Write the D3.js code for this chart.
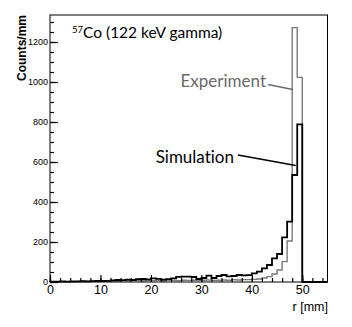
<!DOCTYPE html>
<html>
<head>
<meta charset="utf-8">
<script src="https://cdn.jsdelivr.net/npm/d3@7"></script>
<style>
  body { margin: 0; background: #fff; }
  text { font-variant-ligatures: none; }
</style>
</head>
<body>
<div id="chart"></div>
<script>
// bin lower edges in mm (1 mm bins, 0..54)
var binEdges = d3.range(0, 56, 1);

// simulation (black) counts per mm
var simCounts = [2, 2, 3, 2, 3, 3, 4, 3, 4, 5,
  5, 6, 8, 10, 9, 12, 10, 14, 15, 13,
  18, 16, 12, 14, 18, 26, 27, 27, 25, 15,
  20, 32, 20, 30, 35, 28, 30, 35, 33, 34,
  43, 52, 68, 85, 118, 140, 223, 302, 535, 788,
  0, 0, 0, 0, 0];

// experiment (grey) counts per mm
var expCounts = [1, 1, 1, 2, 1, 2, 2, 3, 3, 4,
  5, 6, 6, 5, 7, 6, 8, 7, 6, 8,
  7, 8, 6, 9, 8, 7, 9, 8, 9, 8,
  9, 10, 8, 9, 10, 9, 11, 10, 12, 12,
  13, 15, 20, 27, 40, 60, 102, 205, 1272, 1023,
  0, 0, 0, 0, 0];

var xMajorTicks = [0, 10, 20, 30, 40, 50];
var yMajorTicks = [0, 200, 400, 600, 800, 1000, 1200];

var cfg = { width: 352, height: 327, left: 50, right: 24.5, top: 15, bottom: 45 };
var width = cfg.width - cfg.left - cfg.right,
  height = cfg.height - cfg.top - cfg.bottom;
var axisFont = "Liberation Sans, Arial, sans-serif";

var svg = d3.select("#chart").append("svg")
  .attr("width", cfg.width)
  .attr("height", cfg.height);

var g = svg.append("g")
  .attr("transform", "translate(" + cfg.left + "," + cfg.top + ")");

var x = d3.scaleLinear().domain([0, 55]).range([0, width]);
var y = d3.scaleLinear().domain([0, 1335]).range([height, 0]);

// step outline of a histogram, ROOT style
function stepLine(counts) {
  var pts = [[0, 0]];
  counts.forEach(function (c, i) {
    pts.push([binEdges[i], c]);
    pts.push([binEdges[i + 1], c]);
  });
  return d3.line()
    .x(function (d) { return x(d[0]); })
    .y(function (d) { return y(d[1]); })(pts);
}

g.append("path")
  .attr("d", stepLine(expCounts))
  .attr("fill", "none")
  .attr("stroke", "#7a7a7a")
  .attr("stroke-width", 1.4);

g.append("path")
  .attr("d", stepLine(simCounts))
  .attr("fill", "none")
  .attr("stroke", "#000")
  .attr("stroke-width", 1.8);

// frame
g.append("rect")
  .attr("width", width).attr("height", height)
  .attr("fill", "none").attr("stroke", "#000").attr("stroke-width", 1);

// y axis: major + minor ticks pointing inside
g.append("g")
  .call(d3.axisLeft(y).tickValues(d3.range(0, 1335, 50)).tickSize(-4).tickFormat(""))
  .call(function (s) { s.select(".domain").remove(); s.selectAll("line").attr("stroke-width", 1.2); });

g.append("g")
  .call(d3.axisLeft(y).tickValues(yMajorTicks).tickSize(-8).tickPadding(2).tickFormat(d3.format("d")))
  .call(function (s) {
    s.select(".domain").remove();
    s.selectAll("line").attr("stroke-width", 1.2);
    s.selectAll("text").attr("font-size", 9).attr("font-family", axisFont).attr("fill", "#000");
  });

// x axis
g.append("g")
  .attr("transform", "translate(0," + height + ")")
  .call(d3.axisBottom(x).tickValues(d3.range(0, 56, 2)).tickSize(-4).tickFormat(""))
  .call(function (s) { s.select(".domain").remove(); s.selectAll("line").attr("stroke-width", 1.2); });

g.append("g")
  .attr("transform", "translate(0," + height + ")")
  .call(d3.axisBottom(x).tickValues(xMajorTicks).tickSize(-7).tickPadding(3).tickFormat(d3.format("d")))
  .call(function (s) {
    s.select(".domain").remove();
    s.selectAll("line").attr("stroke-width", 1.2);
    s.selectAll("text").attr("font-size", 12.5).attr("font-family", axisFont).attr("fill", "#000");
  });

// axis titles
svg.append("text")
  .attr("transform", "translate(26," + cfg.top + ") rotate(-90)")
  .attr("text-anchor", "end")
  .attr("font-family", axisFont)
  .attr("font-weight", "bold")
  .attr("font-size", 12)
  .text("Counts/mm");

svg.append("text")
  .attr("x", 328).attr("y", 311)
  .attr("text-anchor", "end")
  .attr("font-family", axisFont)
  .attr("font-size", 12.5)
  .text("r [mm]");

// title with superscript
var title = svg.append("text")
  .attr("x", 72).attr("y", 38)
  .attr("font-family", "Lato, sans-serif")
  .attr("font-size", 15.5);
title.append("tspan").attr("font-size", 9.5).attr("dy", -5).text("57");
title.append("tspan").attr("dy", 5).text("Co (122 keV gamma)");

// labels with leader lines
var labelFont = "Lato, sans-serif";
svg.append("text")
  .attr("x", 266).attr("y", 87)
  .attr("text-anchor", "end")
  .attr("font-family", labelFont)
  .attr("font-size", 17)
  .attr("fill", "#6a6a6a")
  .text("Experiment");
svg.append("line")
  .attr("x1", 268).attr("y1", 84.5)
  .attr("x2", x(48.1) + cfg.left).attr("y2", 89.5)
  .attr("stroke", "#6a6a6a").attr("stroke-width", 1.5);

svg.append("text")
  .attr("x", 234).attr("y", 163)
  .attr("text-anchor", "end")
  .attr("font-family", labelFont)
  .attr("font-size", 17)
  .attr("fill", "#000")
  .text("Simulation");
svg.append("line")
  .attr("x1", 238).attr("y1", 155)
  .attr("x2", x(48.7) + cfg.left).attr("y2", 165.5)
  .attr("stroke", "#000").attr("stroke-width", 1.5);
</script>
</body>
</html>
